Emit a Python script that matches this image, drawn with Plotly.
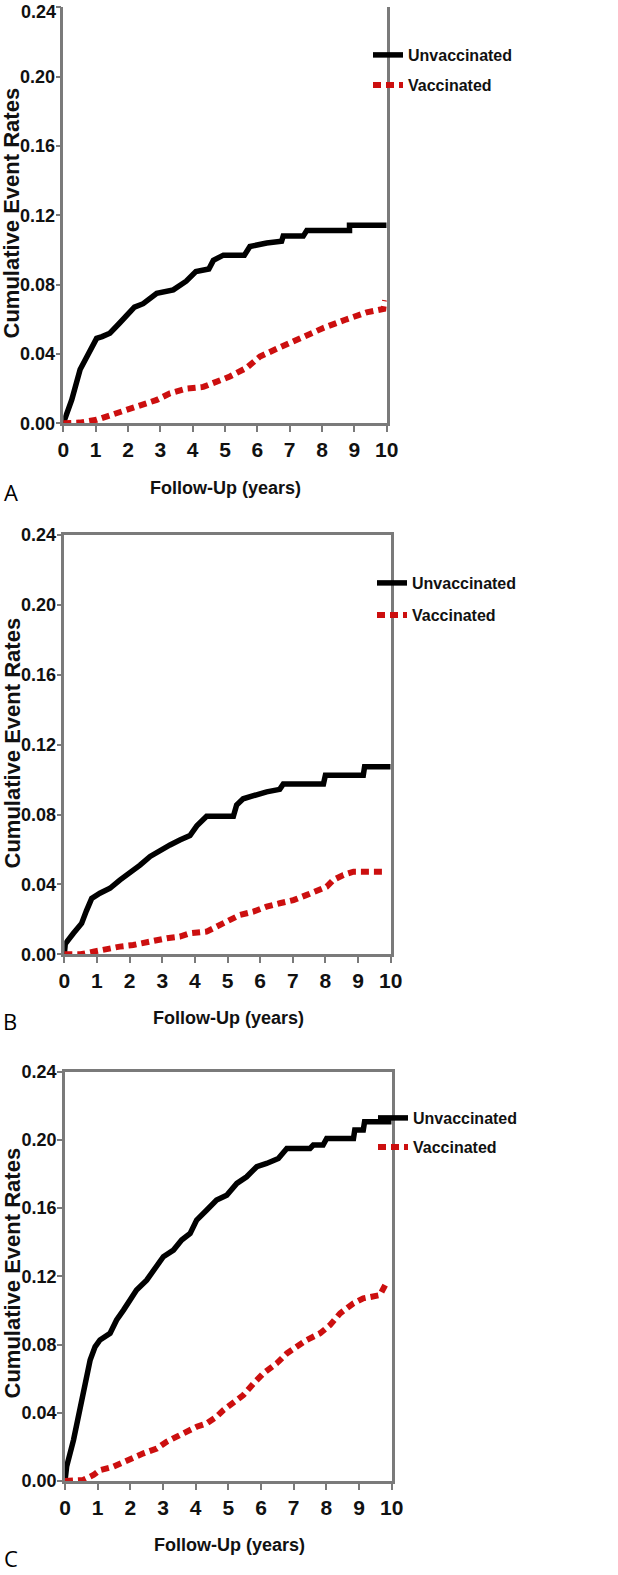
import plotly.graph_objects as go

W, H = 618, 1575

# ---------------- data ----------------
a_unvacc_t = [0, 0.26, 0.52, 0.77, 1.03, 1.2, 1.44, 1.75, 2.06, 2.2, 2.47, 2.89, 3.4, 3.8, 4.1, 4.5, 4.64, 4.95,
              5.6, 5.77, 6.29, 6.75, 6.8, 7.42, 7.53, 8.85, 8.85, 10]
a_unvacc_y = [0, 0.0135, 0.031, 0.040, 0.049, 0.050, 0.052, 0.058, 0.065, 0.067, 0.069, 0.075, 0.077, 0.082,
              0.0875, 0.089, 0.094, 0.097, 0.097, 0.102, 0.104, 0.105, 0.108, 0.108, 0.1113, 0.1113, 0.1143, 0.1143]
a_vacc_t = [0, 0.5, 1.03, 1.55, 1.96, 2.47, 2.89, 3.3, 3.81, 4.33, 4.74, 5.15, 5.67, 6.08, 6.6, 7.1, 7.63, 8.04,
            8.76, 9.38, 9.9, 9.95]
a_vacc_y = [0, 0.0004, 0.002, 0.005, 0.0077, 0.0106, 0.0135, 0.0173, 0.020, 0.021, 0.024, 0.027, 0.032, 0.0385,
            0.043, 0.047, 0.052, 0.055, 0.060, 0.064, 0.066, 0.071]

b_unvacc_t = [0, 0.03, 0.28, 0.53, 0.68, 0.84, 1.09, 1.4, 1.7, 2.01, 2.32, 2.63, 2.93, 3.24, 3.54, 3.85, 4.06,
              4.36, 5.18, 5.28, 5.48, 5.79, 6.2, 6.6, 6.71, 7.94, 8.0, 9.16, 9.2, 10]
b_unvacc_y = [0, 0.006, 0.012, 0.0177, 0.025, 0.032, 0.035, 0.0378, 0.0425, 0.0463, 0.051, 0.056, 0.0597, 0.0626,
              0.0654, 0.068, 0.0735, 0.079, 0.079, 0.0855, 0.089, 0.091, 0.093, 0.0944, 0.0975, 0.0975, 0.1025,
              0.1025, 0.1073, 0.1073]
b_vacc_t = [0, 0.5, 0.89, 1.3, 1.7, 2.11, 2.52, 3.14, 3.54, 3.85, 4.36, 4.77, 4.97, 5.38, 5.79, 6.2, 6.6, 7.02,
            7.43, 7.73, 8.04, 8.24, 8.55, 8.86, 9.78]
b_vacc_y = [0, 0, 0.0015, 0.0034, 0.0044, 0.0053, 0.0072, 0.0092, 0.0101, 0.012, 0.013, 0.0168, 0.0196, 0.0225,
            0.0244, 0.0273, 0.0292, 0.031, 0.034, 0.0359, 0.0387, 0.0425, 0.0454, 0.0473, 0.0473]

c_unvacc_t = [0, 0.05, 0.26, 0.46, 0.61, 0.77, 0.92, 1.07, 1.38, 1.58, 1.79, 1.99, 2.19, 2.5, 2.7, 3.01, 3.32,
              3.57, 3.83, 4.03, 4.34, 4.64, 4.95, 5.26, 5.56, 5.87, 6.17, 6.53, 6.79, 7.5, 7.6, 7.9, 8.01, 8.83,
              8.87, 9.13, 9.17, 10]
c_unvacc_y = [0, 0.0084, 0.024, 0.0416, 0.0553, 0.071, 0.0787, 0.0827, 0.0866, 0.0944, 0.1002, 0.106, 0.112,
              0.1178, 0.1237, 0.1315, 0.1354, 0.1413, 0.1452, 0.153, 0.1589, 0.1647, 0.1676, 0.1745, 0.1784,
              0.1843, 0.1862, 0.1891, 0.195, 0.195, 0.197, 0.197, 0.2009, 0.2009, 0.2058, 0.2058, 0.2106, 0.2106]
c_vacc_t = [0, 0.56, 0.87, 1.07, 1.48, 1.79, 2.09, 2.4, 2.81, 3.11, 3.42, 3.72, 4.03, 4.34, 4.64, 4.85, 5.15,
            5.46, 5.77, 6.07, 6.48, 6.79, 7.09, 7.4, 7.81, 8.11, 8.42, 8.83, 9.13, 9.64, 9.8]
c_vacc_y = [0, 0.0006, 0.0035, 0.0064, 0.0084, 0.0113, 0.0133, 0.0162, 0.019, 0.023, 0.026, 0.0289, 0.0318,
            0.0338, 0.0377, 0.0416, 0.0455, 0.0504, 0.0572, 0.0631, 0.069, 0.0748, 0.0787, 0.0827, 0.0866,
            0.0914, 0.0983, 0.1042, 0.1071, 0.109, 0.1149]

x_ticks = [0, 1, 2, 3, 4, 5, 6, 7, 8, 9, 10]
y_ticks = [0.00, 0.04, 0.08, 0.12, 0.16, 0.20, 0.24]
series_names = ["Unvaccinated", "Vaccinated"]
panel_letters = ["A", "B", "C"]
x_title = "Follow-Up (years)"
y_title = "Cumulative Event Rates"

# ---------------- layout geometry (pixels) ----------------
# (x_left, x_right, y_top, y_bottom)
panels = [(63.3, 386.7, 7.3, 423.3), (64.3, 390.7, 535.0, 954.3), (65.0, 391.7, 1071.7, 1481.0)]
legend_rows = [(55, 85), (583, 615), (1118, 1147)]
legend_textx = [412, 416, 417]
xtitle_pos = [(225, 488), (228, 1018), (229, 1545)]
ytitle_pos = [(-4, 213), (-3, 743), (-3, 1273)]
letter_pos = [(11, 492), (10, 1021), (11, 1575)]

def px_x(v):
    return v / W

def px_y(v):
    return 1 - v / H

AX = "#7a7a7a"
BLACK = "#000000"
RED = "#cc0f0f"
FONT = "Liberation Sans"

data = [
    (a_unvacc_t, a_unvacc_y, a_vacc_t, a_vacc_y),
    (b_unvacc_t, b_unvacc_y, b_vacc_t, b_vacc_y),
    (c_unvacc_t, c_unvacc_y, c_vacc_t, c_vacc_y),
]

fig = go.Figure()
layout = dict(
    width=W, height=H, margin=dict(l=0, r=0, t=0, b=0, autoexpand=False),
    paper_bgcolor="white", plot_bgcolor="white", showlegend=True,
    annotations=[],
)

tickfont_y = dict(family=FONT, size=18, color="#111", weight="bold")

leg_idx = 0
for i, (ut, uy, vt, vy) in enumerate(data):
    sfx = "" if i == 0 else str(i + 1)
    xl, xr, yt, yb = panels[i]
    for j, (t, y, col, dash, wdt) in enumerate([(ut, uy, BLACK, "solid", 5.5), (vt, vy, RED, "8px,5px", 6)]):
        leg_idx += 1
        lname = "legend" if leg_idx == 1 else f"legend{leg_idx}"
        fig.add_trace(go.Scatter(
            x=t, y=y, mode="lines", name=series_names[j],
            line=dict(color=col, width=wdt, dash=dash),
            xaxis="x" + sfx, yaxis="y" + sfx, legend=lname, showlegend=True,
        ))
        layout[lname] = dict(
            x=px_x(legend_textx[i] - 44), y=px_y(legend_rows[i][j]), xanchor="left", yanchor="middle",
            bgcolor="rgba(0,0,0,0)", borderwidth=0,
            font=dict(family=FONT, size=16, color="#111", weight="bold"),
        )
    ytext = [f"{v:.2f}" for v in y_ticks]
    if i == 0:
        # top label of panel A sits at the very edge of the page; draw it slightly lower as text
        top_label = ytext[-1]
        ytext[-1] = ""
        layout["annotations"].append(dict(
            text=top_label, x=px_x(58), y=px_y(12), xref="paper", yref="paper", showarrow=False,
            xanchor="right", yanchor="middle", font=tickfont_y))
    layout["xaxis" + sfx] = dict(
        domain=[px_x(xl), px_x(xr)], range=[0, 10], anchor="y" + sfx,
        tickvals=x_ticks, ticktext=[str(v) for v in x_ticks], ticks="outside", ticklen=6, tickwidth=2,
        tickcolor=AX, showline=True, linecolor=AX, linewidth=2.5, mirror=(i != 0),
        showgrid=False, zeroline=False, fixedrange=True, automargin=False, ticklabeloverflow="allow",
        tickfont=dict(family=FONT, size=21, color="#111", weight="bold"),
    )
    layout["yaxis" + sfx] = dict(
        domain=[px_y(yb), px_y(yt)], range=[0, 0.24], anchor="x" + sfx,
        tickvals=y_ticks, ticktext=ytext, ticks="outside", ticklen=5, tickwidth=2,
        tickcolor=AX, showline=True, linecolor=AX, linewidth=2.5, mirror=True,
        showgrid=False, zeroline=False, fixedrange=True, automargin=False, ticklabelstandoff=-3,
        ticklabeloverflow="allow", tickfont=tickfont_y,
    )
    layout["annotations"] += [
        dict(text=x_title, x=px_x(xtitle_pos[i][0]), y=px_y(xtitle_pos[i][1]), xref="paper", yref="paper",
             showarrow=False, xanchor="center", yanchor="middle",
             font=dict(family=FONT, size=18, color="#111", weight="bold")),
        dict(text=y_title, x=px_x(ytitle_pos[i][0]), y=px_y(ytitle_pos[i][1]), xref="paper", yref="paper",
             showarrow=False, xanchor="left", yanchor="middle", textangle=-90,
             font=dict(family=FONT, size=22, color="#111", weight="bold")),
        dict(text=panel_letters[i], x=px_x(letter_pos[i][0]), y=px_y(letter_pos[i][1]), xref="paper",
             yref="paper", showarrow=False, xanchor="center",
             yanchor=("bottom" if i == 2 else "middle"),
             font=dict(family="Open Sans", size=22, color="#000")),
    ]

fig.update_layout(**layout)
fig.write_html("out.html", config={"displayModeBar": False},
               post_script="document.body.style.margin='0';document.body.style.overflow='hidden';")
